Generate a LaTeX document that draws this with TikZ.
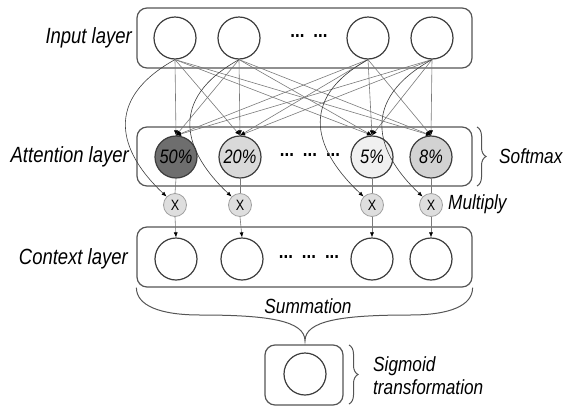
\documentclass[tikz,border=0pt]{standalone}
\usepackage{fontspec}
\setmainfont{Liberation Sans}[FakeStretch=0.84]
\usetikzlibrary{arrows.meta,decorations.pathreplacing}

\definecolor{boxgray}{HTML}{555555}
\definecolor{ringgray}{HTML}{3C3C3C}
\definecolor{wiregray}{HTML}{7A7A7A}
\definecolor{fiftyfill}{HTML}{6E6E6E}
\definecolor{twentyfill}{HTML}{D9D9D9}
\definecolor{fivefill}{HTML}{F0F0F0}
\definecolor{eightfill}{HTML}{D2D2D2}
\definecolor{mulfill}{HTML}{DEDEDE}
\definecolor{mulring}{HTML}{A0A0A0}

\begin{document}
\begin{tikzpicture}[x=1pt,y=-1pt,
  layerbox/.style={draw=boxgray, line width=1.2pt, rounded corners=10pt,
    minimum width=335pt, minimum height=60pt, inner sep=0pt},
  unit/.style={circle, draw=ringgray, line width=1.2pt, minimum size=42pt,
    inner sep=0pt, font=\fontsize{19.5}{21}\selectfont\itshape},
  mulnode/.style={circle, draw=mulring, fill=mulfill, line width=0.8pt,
    minimum size=23pt, inner sep=0pt, font=\fontsize{15}{16}\selectfont},
  layerlabel/.style={anchor=east, inner sep=0pt, font=\fontsize{22}{24}\selectfont\itshape},
  sidelabel/.style={anchor=west, inner sep=0pt, font=\fontsize{20.5}{23}\selectfont\itshape, align=left},
  dotsnode/.style={inner sep=0pt, font=\fontsize{20}{22}\selectfont\bfseries},
  tipstyle/.style={-{Latex[length=5pt,width=4pt,color=black]}},
  wire/.style={draw=wiregray, line width=0.6pt, tipstyle},
  curvewire/.style={draw=ringgray, line width=0.6pt, tipstyle},
  plainwire/.style={draw=wiregray, line width=0.6pt},
  bracestyle/.style={draw=boxgray, line width=1pt, decorate,
    decoration={brace, amplitude=9pt}},
]
\useasboundingbox (0,0) rectangle (563,405);

% layer boxes
\node[layerbox] (inbox) at (304.5,38) {};
\node[layerbox, minimum height=59pt] (atbox) at (304.5,156.5) {};
\node[layerbox] (cxbox) at (304.5,257) {};
\node[layerbox, minimum width=78pt, minimum height=60pt] (sgbox) at (304,375) {};

% layer names
\node[layerlabel] (inlab) at (132,38) {Input layer};
\node[layerlabel] (atlab) at (129,157) {Attention layer};
\node[layerlabel] (cxlab) at (128,259) {Context layer};

% input units
\node[unit] (in1) at (175,38) {};
\node[unit] (in2) at (239,38) {};
\node[unit] (in3) at (368,38) {};
\node[unit] (in4) at (432,38) {};
\node[dotsnode] (indots) at (309,36) {...\hspace{9pt}...};

% attention units
\node[unit, fill=fiftyfill] (at1) at (176,157) {50\%};
\node[unit, fill=twentyfill] (at2) at (240,157) {20\%};
\node[unit, fill=fivefill] (at3) at (372,157) {5\%};
\node[unit, fill=eightfill] (at4) at (431,157) {8\%};
\node[dotsnode] (atdots) at (310,155) {...\hspace{9pt}...\hspace{9pt}...};

% multiplication nodes
\node[mulnode] (mx1) at (175,205) {X};
\node[mulnode] (mx2) at (240,205) {X};
\node[mulnode] (mx3) at (372,205) {X};
\node[mulnode] (mx4) at (431,205) {X};

% context units
\node[unit] (cx1) at (176,259) {};
\node[unit] (cx2) at (242,259) {};
\node[unit] (cx3) at (372,259) {};
\node[unit] (cx4) at (431,259) {};
\node[dotsnode] (cxdots) at (309,257) {...\hspace{9pt}...\hspace{9pt}...};

% output unit
\node[unit] (sg) at (305,374) {};

% full connections input -> attention
\foreach \i in {1,...,4}{
  \foreach \j in {1,...,4}{
    \draw[wire] (in\i.south) -- (at\j.north);
  }
}

% skip connections input -> multiply
\foreach \i in {1,...,4}{
  \draw[curvewire] (in\i.south) .. controls +(-72,40) and +(-48,-45) .. (mx\i.north west);
}

% attention -> multiply -> context
\foreach \i in {1,...,4}{
  \draw[plainwire] (at\i.south) -- (mx\i.north);
  \draw[wire] (mx\i.south) -- (cx\i.north);
}

% side braces and labels
\draw[bracestyle] (477,127) -- (477,186);
\node[sidelabel] (softlab) at (499,156) {Softmax};
\node[sidelabel] (multlab) at (448,204) {Multiply};
\draw[bracestyle] (349,345) -- (349,404);
\node[sidelabel] (sigmlab) at (373,376) {Sigmoid\\[0pt]transformation};

% summation brace under the context layer
\coordinate (sumtip) at (305,341);
\draw[draw=boxgray, line width=1pt]
  (cxbox.south west) .. controls +(0,18) and +(-40,0) .. (200,315)
  .. controls +(70,0) and +(0,-20) .. (sumtip)
  .. controls +(0,-20) and +(-70,0) .. (410,315)
  .. controls +(40,0) and +(0,18) .. (cxbox.south east);
\node[font=\fontsize{20.5}{23}\selectfont\itshape, inner sep=0pt] (sumlab) at (308,306) {Summation};
\end{tikzpicture}
\end{document}
